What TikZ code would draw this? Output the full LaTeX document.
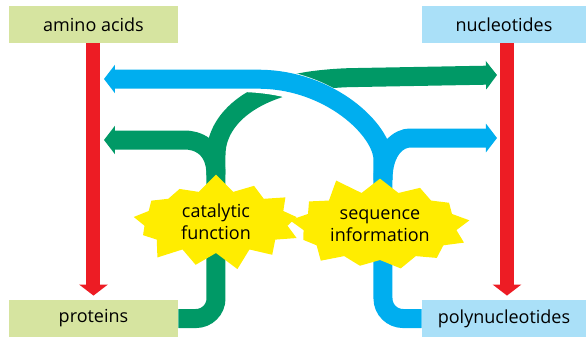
\documentclass[tikz,border=0pt]{standalone}
\usepackage{fontspec}
\setmainfont{Open Sans}
\usetikzlibrary{arrows.meta, shapes.symbols, positioning}

\definecolor{boxgreen}{RGB}{214,228,160}
\definecolor{boxblue}{RGB}{170,224,248}
\definecolor{pathgreen}{RGB}{0,153,102}
\definecolor{pathblue}{RGB}{0,174,239}
\definecolor{pathred}{RGB}{237,28,36}
\definecolor{burst}{RGB}{255,237,0}

\begin{document}
\begin{tikzpicture}[
    x=0.5pt, y=-0.5pt,
    every node/.style={font=\fontsize{9}{11}\selectfont},
    box/.style={minimum height=18.5pt, inner sep=0pt},
    tip/.style={-{Triangle[length=5.5pt, width=14pt]}},
    flow/.style={line width=9.5pt, rounded corners=10pt},
    buildup/.style={pathred, line width=7pt, tip, shorten >=2pt},
    burstnode/.style={shape=starburst, fill=burst, starburst points=13,
                      starburst point height=9pt, inner sep=1pt, align=center}
  ]
  \useasboundingbox (0,0) rectangle (586,339);

  % Kaesten
  \node[box, fill=boxgreen, minimum width=84.5pt] (amino) at (93.5,24.5) {amino acids};
  \node[box, fill=boxblue, minimum width=82pt] (nucleo) at (504,24.5) {nucleotides};
  \node[box, fill=boxgreen, minimum width=84.5pt] (protein) at (93.5,318.5) {proteins};
  \node[box, fill=boxblue, minimum width=82pt] (polynuc) at (504,318.5) {polynucleotides};

  % Verzweigungen und Pfeilspitzen
  \coordinate (gsplit) at (216,175);
  \coordinate (bsplit) at (383,180);
  \coordinate (gleft) at (104,140);
  \coordinate (gright) at (497,75);
  \coordinate (bleft) at (104,79);
  \coordinate (bright) at (497,138);

  % gruener Pfad (proteins)
  \draw[flow, pathgreen, tip] (protein.east) -| (gsplit)
    .. controls (216,120) and (250,90) .. (330,78) -- (gright);
  \draw[flow, pathgreen, tip] (gsplit)
    .. controls (216,145) and (195,140) .. (165,140) -- (gleft);

  % blauer Pfad (polynucleotides), weiss umrandet an der Kreuzung
  \draw[line width=13pt, white] (bsplit)
    .. controls (383,130) and (330,80) .. (240,79) -- (bleft);
  \draw[flow, pathblue, tip] (polynuc.west) -| (bsplit)
    .. controls (383,130) and (330,80) .. (240,79) -- (bleft);
  \draw[flow, pathblue, tip] (bsplit)
    .. controls (383,148) and (400,138) .. (430,138) -- (bright);

  % Polymerisation
  \draw[buildup] (amino.south) -- (protein.north);
  \draw[buildup] ([xshift=1.5pt]nucleo.south) -- ([xshift=1.5pt]polynuc.north);

  % Sterne
  \node[burstnode, random starburst=7, minimum width=90pt, minimum height=49pt]
    (catalytic) at (216,222) {catalytic\\function};
  \node[burstnode, random starburst=11, minimum width=95pt, minimum height=52pt]
    (sequence) at (380,226) {sequence\\information};
\end{tikzpicture}
\end{document}
